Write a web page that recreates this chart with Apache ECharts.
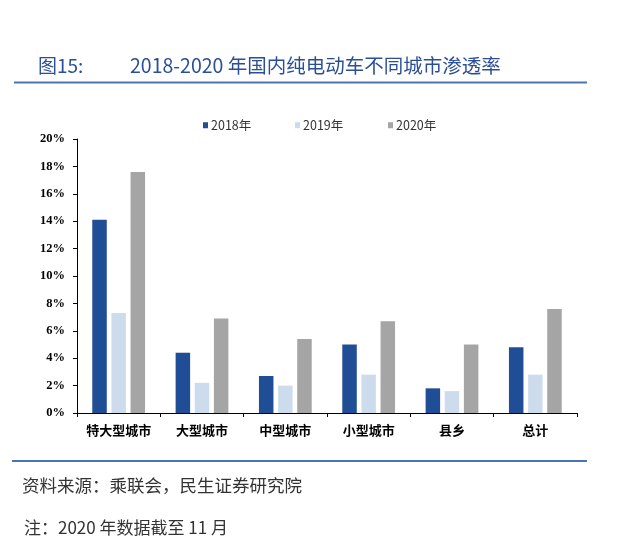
<!DOCTYPE html>
<html>
<head>
<meta charset="utf-8">
<script src="https://cdn.jsdelivr.net/npm/echarts@6/dist/echarts.min.js"></script>
<style>
html,body{margin:0;padding:0;background:#fff;}
#main{width:640px;height:547px;}
</style>
</head>
<body>
<div id="main"></div>
<script>
var categories = ['特大型城市', '大型城市', '中型城市', '小型城市', '县乡', '总计'];
var seriesNames = ['2018年', '2019年', '2020年'];
var values2018 = [14.1, 4.4, 2.7, 5.0, 1.8, 4.8];
var values2019 = [7.3, 2.2, 2.0, 2.8, 1.6, 2.8];
var values2020 = [17.6, 6.9, 5.4, 6.7, 5.0, 7.6];
var yTicks = [0, 2, 4, 6, 8, 10, 12, 14, 16, 18, 20];
var colors = ['#1f4e97', '#cddced', '#a5a5a5'];

var chart = echarts.init(document.getElementById('main'), null, {renderer: 'canvas'});
var dataSets = [values2018, values2019, values2020];
var series = seriesNames.map(function (n, i) {
  return {
    name: n,
    type: 'bar',
    data: dataSets[i],
    barWidth: 14.5,
    barGap: '32%',
    itemStyle: {color: colors[i]}
  };
});
var legendLefts = [203, 295, 388];
var legends = seriesNames.map(function (n, i) {
  return {
    data: [n],
    top: 119,
    left: legendLefts[i],
    padding: 0,
    itemWidth: 5,
    itemHeight: 6,
    icon: 'rect',
    textStyle: {fontSize: 12.5, color: '#333', fontFamily: 'Noto Sans CJK SC', padding: [0, 0, 0, -2]}
  };
});

chart.setOption({
  animation: false,
  textStyle: {fontFamily: 'Noto Sans CJK SC'},
  graphic: [
    {type: 'text', left: 38, top: 56, style: {text: '图15:', fill: '#2b4f94', font: '19px "Noto Sans CJK SC"'}},
    {type: 'text', left: 130, top: 56, style: {text: '2018-2020 年国内纯电动车不同城市渗透率', fill: '#2b4f94', font: '19.5px "Noto Sans CJK SC"'}},
    {type: 'line', shape: {x1: 14, y1: 82.5, x2: 587, y2: 82.5}, style: {stroke: '#4a74b8', lineWidth: 2}},
    {type: 'line', shape: {x1: 12, y1: 461, x2: 587, y2: 461}, style: {stroke: '#4a74b8', lineWidth: 2}},
    {type: 'text', left: 22, top: 477, style: {text: '资料来源：乘联会，民生证券研究院', fill: '#333', font: '17.5px "Noto Sans CJK SC"'}},
    {type: 'text', left: 24, top: 519, style: {text: '注：2020 年数据截至 11 月', fill: '#333', font: '17px "Noto Sans CJK SC"'}}
  ],
  legend: legends,
  grid: {left: 77, right: 63, top: 139, bottom: 134, containLabel: false},
  xAxis: {
    type: 'category',
    data: categories,
    axisLine: {lineStyle: {color: '#000', width: 1}},
    axisTick: {show: true, length: 4, lineStyle: {color: '#000'}},
    axisLabel: {interval: 0, color: '#000', fontSize: 13, fontWeight: 'bold', margin: 11, fontFamily: 'Noto Sans CJK SC'}
  },
  yAxis: {
    type: 'value',
    min: 0,
    max: 20,
    interval: 2,
    splitLine: {show: false},
    axisLine: {show: true, lineStyle: {color: '#000', width: 1}},
    axisTick: {show: true, length: 4, lineStyle: {color: '#000'}},
    axisLabel: {
      color: '#000', fontSize: 12.5, fontWeight: 'bold', margin: 12,
      fontFamily: 'Liberation Serif',
      formatter: function (v) { return yTicks.indexOf(v) >= 0 ? v + '%' : ''; }
    }
  },
  series: series
});
</script>
</body>
</html>
